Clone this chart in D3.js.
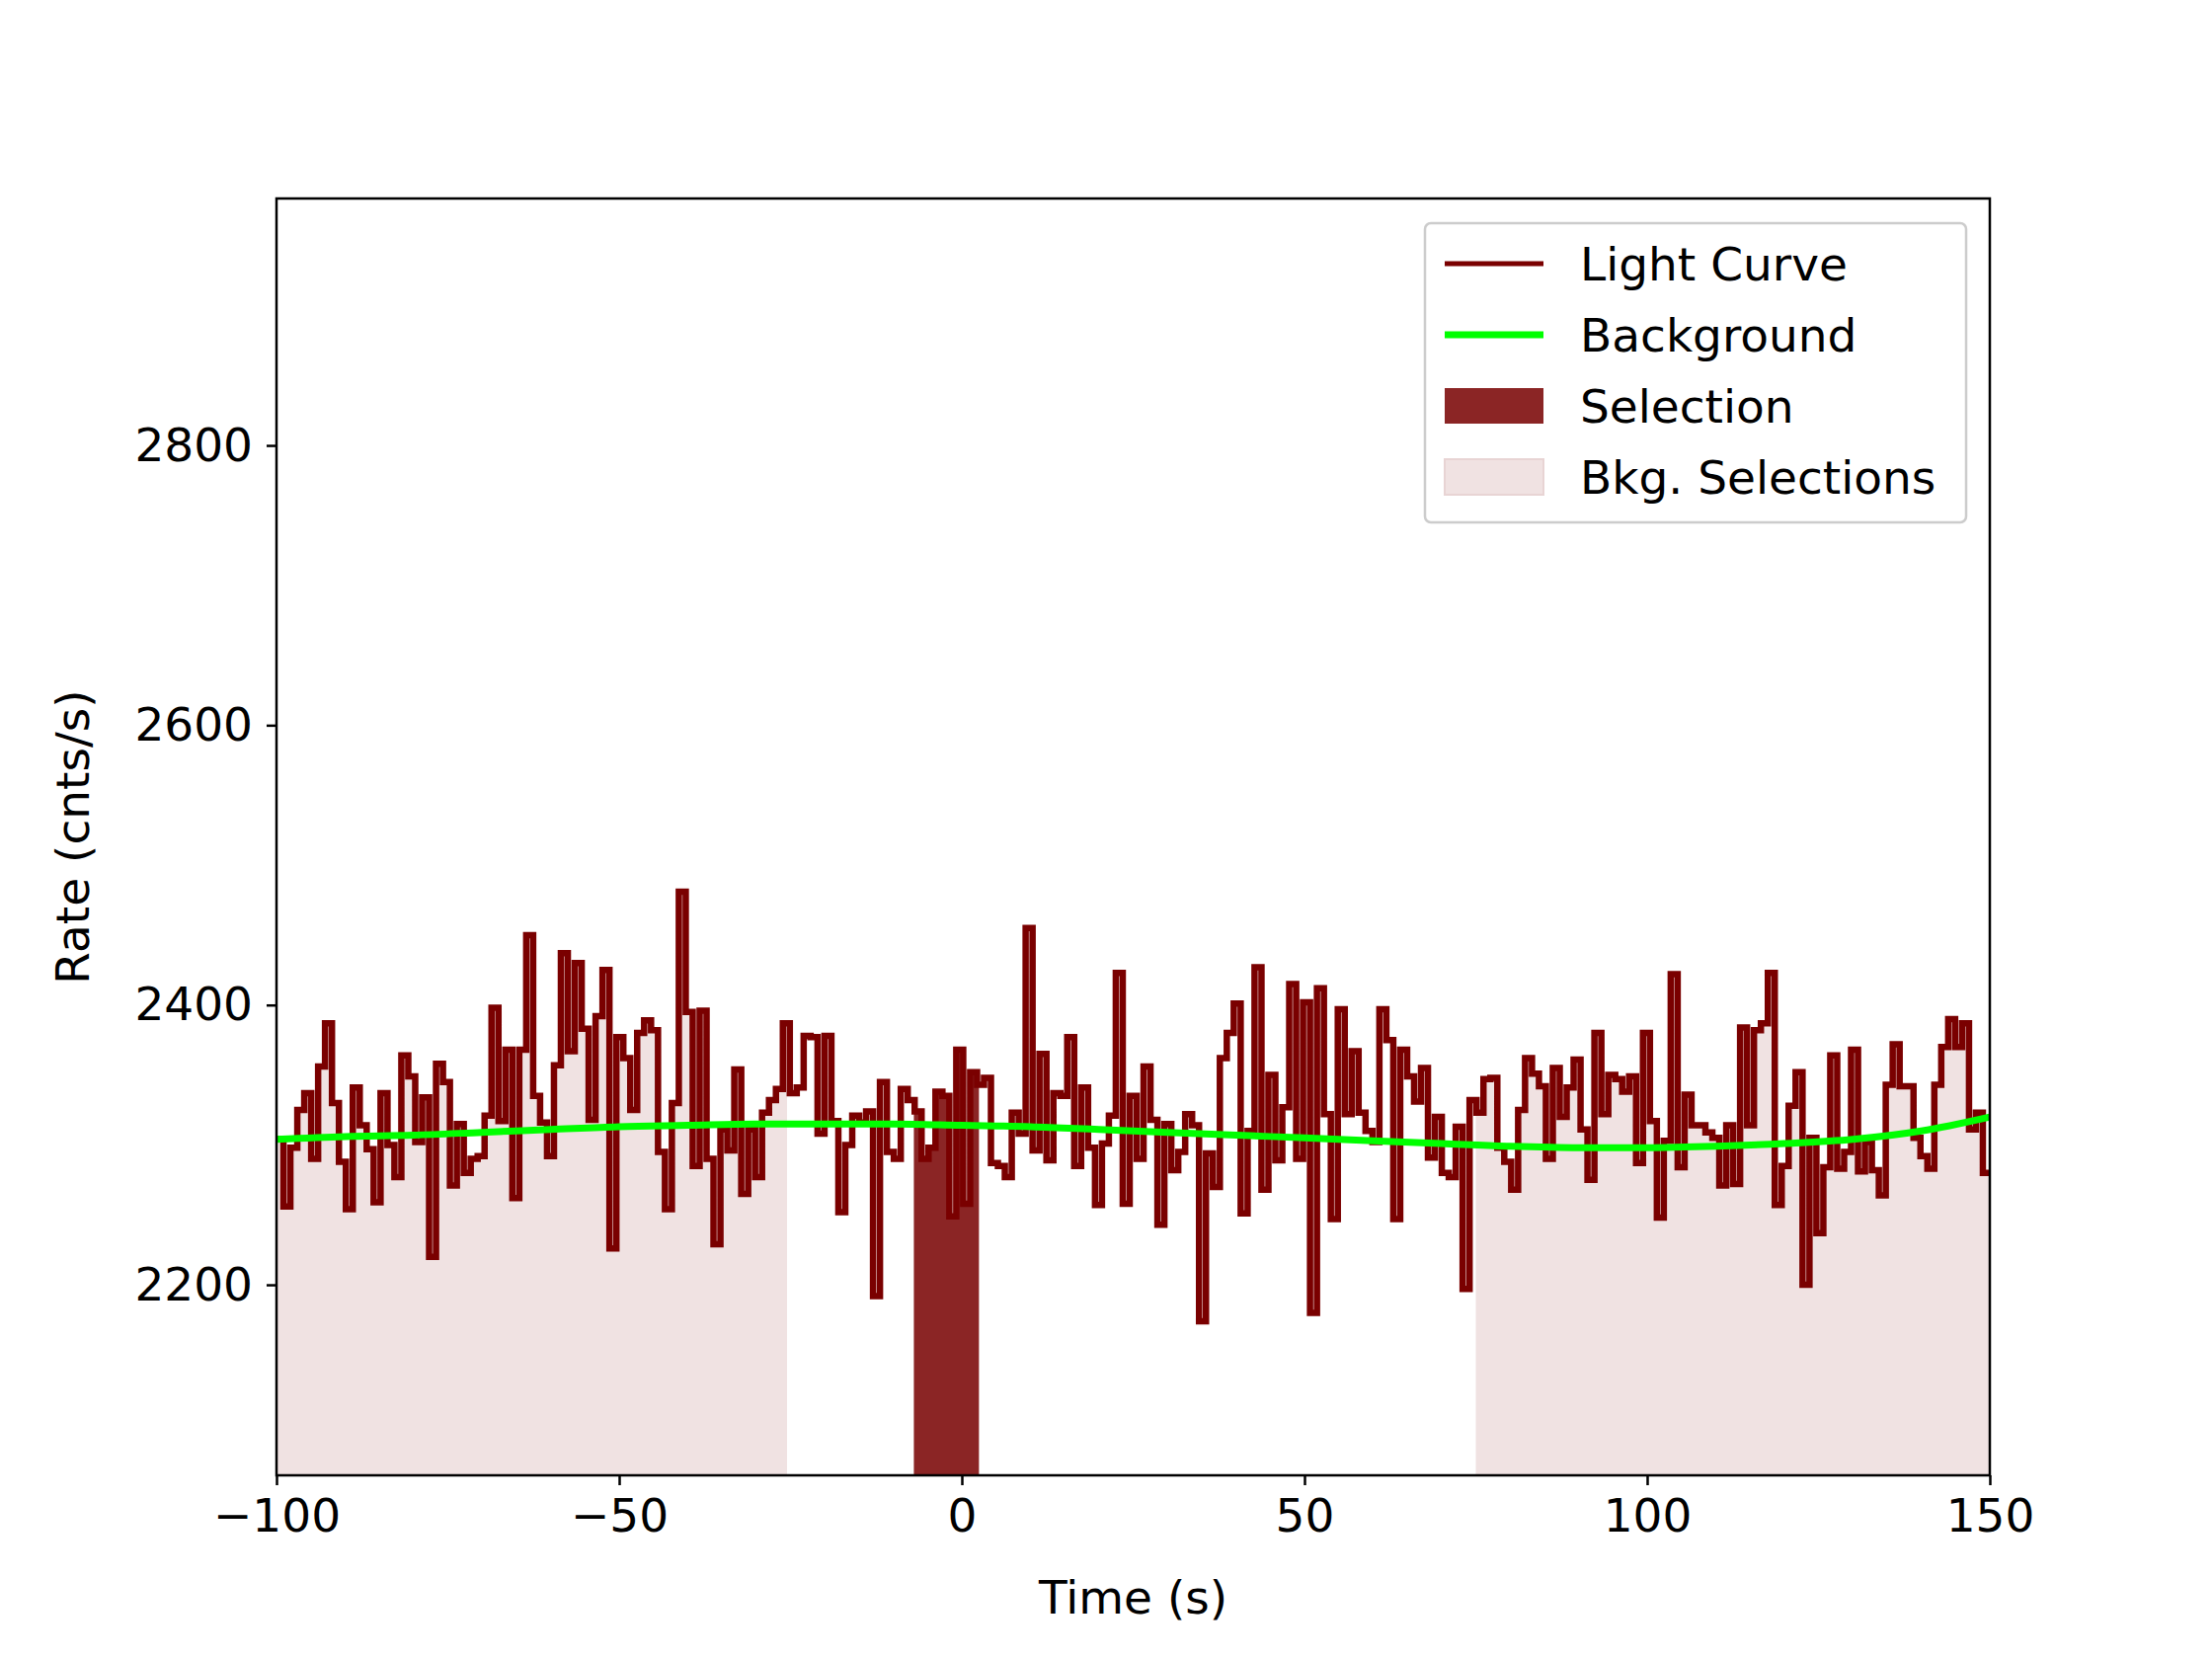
<!DOCTYPE html>
<html><head><meta charset="utf-8">
<script src="https://cdn.jsdelivr.net/npm/d3@7"></script>
<style>body{margin:0;background:#fff}text{font-family:"DejaVu Sans",sans-serif}</style>
</head><body><svg id="c" width="2240" height="1680"></svg>
<script>
const rates = [
2304,2256,2298,2325,2337,2290,2356,2387,2330,2288,2254,2341,2314,2297,2259,2337,2300,2277,2364,2349,
2302,2334,2220,2358,2345,2271,2315,2280,2290,2292,2321,2398,2317,2368,2262,2368,2450,2335,2316,2292,
2357,2437,2367,2430,2383,2318,2392,2425,2226,2377,2362,2325,2380,2389,2382,2295,2254,2330,2481,2395,
2285,2396,2290,2229,2311,
2296,2354,2265,2311,2277,2323,2332,2340,2387,2337,2341,2378,2377,2308,2378,2317,2252,2300,2321,2316,
2324,2192,2345,2295,2290,2340,2332,2324,2290,2298,2338,2335,2249,2368,2258,2352,2343,2348,2287,2285,
2277,2323,2308,2455,2296,2365,2289,2337,2335,2377,2285,2341,2298,2257,2301,2321,2423,2258,2335,2290,
2356,2318,
2243,2315,2282,2295,2322,2314,2174,2294,2270,2362,2380,2401,2251,2310,2427,2268,2350,2289,2327,2415,
2290,2402,2180,2412,2322,2247,2397,2322,2367,2323,2310,2302,2397,2375,2247,2368,2349,2331,2355,2291,
2320,2280,2277,2313,2197,2332,2323,2347,2348,2298,2288,2268,2325,2362,2351,2342,2290,2355,2320,2341,
2361,2311,2275,2380,2322,2350,2347,2338,2349,2287,2380,2317,2248,2303,2422,2284,2336,2314,2314,2309,
2305,2271,2314,2272,2384,2314,2382,2387,2423,2257,2285,2328,2352,2200,2305,2237,2284,2364,2283,2295,
2368,2281,2302,2282,2264,2343,2372,2342,2342,2305,2292,2283,2343,2370,2390,2370,2387,2311,2323,2280];
const bkgTimes = [-100,-90,-80,-70,-60,-50,-40,-30,-20,-10,0,10,20,30,40,50,60,70,80,90,100,110,120,130,140,150];
const bkgRates = [2304,2306,2307,2309,2311,2313,2314,2315,2315,2315,2314,2313,2311,2309,2307,2305,2303,2301,2299,2298,2298,2299,2301,2304,2310,2320];
const selection = [-7, 2.5];
const bkgSelections = [[-100,-25.5],[75,150]];
const xTicks = [-100,-50,0,50,100,150];
const yTicks = [2200,2400,2600,2800];
const legendLabels = ["Light Curve","Background","Selection","Bkg. Selections"];

const L=280,R=2015,T=201,B=1494,FS=47;
const svg=d3.select("#c");
const x=d3.scaleLinear().domain([-100,150]).range([L,R]);
const y=d3.scaleLinear().domain([2063.8,2976.5]).range([B,T]);
const bw=250/rates.length;
const pts=rates.map((v,i)=>[-100+i*bw,v]); pts.push([150,rates[rates.length-1]]);

const defs=svg.append("defs");
defs.append("clipPath").attr("id","plot").append("rect").attr("x",L).attr("y",T).attr("width",R-L).attr("height",B-T);
function clipFor(id,a,b){defs.append("clipPath").attr("id",id).append("rect").attr("x",x(a)).attr("y",T).attr("width",x(b)-x(a)).attr("height",B-T);}
bkgSelections.forEach((s,i)=>clipFor("bk"+i,s[0],s[1]));
clipFor("sel",selection[0],selection[1]);

const area=d3.area().x(d=>x(d[0])).y0(B).y1(d=>y(d[1])).curve(d3.curveStepAfter);
bkgSelections.forEach((s,i)=>svg.append("path").attr("d",area(pts)).attr("fill","#f0e2e2").attr("clip-path","url(#bk"+i+")"));
svg.append("path").attr("d",area(pts)).attr("fill","#8b2525").attr("clip-path","url(#sel)");

const g=svg.append("g").attr("clip-path","url(#plot)");
g.append("path").attr("d",d3.line().x(d=>x(d[0])).y(d=>y(d[1])).curve(d3.curveStepAfter)(pts))
 .attr("fill","none").attr("stroke","#7a0000").attr("stroke-width",6.5);
g.append("path").attr("d",d3.line().x((d,i)=>x(bkgTimes[i])).y(d=>y(d)).curve(d3.curveMonotoneX)(bkgRates))
 .attr("fill","none").attr("stroke","#00ff00").attr("stroke-width",7);

svg.append("rect").attr("x",L).attr("y",T).attr("width",R-L).attr("height",B-T).attr("fill","none").attr("stroke","#000").attr("stroke-width",2.5);
const xa=svg.append("g").attr("transform",`translate(0,${B})`).call(d3.axisBottom(x).tickValues(xTicks).tickFormat(d=>d<0?"\u2212"+(-d):String(d)).tickSize(10).tickPadding(14));
const ya=svg.append("g").attr("transform",`translate(${L},0)`).call(d3.axisLeft(y).tickValues(yTicks).tickFormat(d=>String(d)).tickSize(10).tickPadding(14));
[xa,ya].forEach(a=>{a.select(".domain").remove();a.selectAll("line").attr("stroke-width",2.5);a.selectAll("text").attr("font-size",FS).attr("font-family","DejaVu Sans").attr("fill","#000");});
svg.append("text").attr("x",(L+R)/2).attr("y",1634).attr("text-anchor","middle").attr("font-size",FS).text("Time (s)");
svg.append("text").attr("transform",`translate(90,${(T+B)/2}) rotate(-90)`).attr("text-anchor","middle").attr("font-size",FS).text("Rate (cnts/s)");

const lg=svg.append("g");
lg.append("rect").attr("x",1443).attr("y",226).attr("width",548).attr("height",303).attr("rx",6).attr("fill","#fff").attr("fill-opacity",0.8).attr("stroke","#ccc").attr("stroke-width",2.5);
legendLabels.forEach((t,i)=>{
  const cy=267+i*72;
  if(i===0) lg.append("line").attr("x1",1463).attr("x2",1563).attr("y1",cy).attr("y2",cy).attr("stroke","#7a0000").attr("stroke-width",5);
  if(i===1) lg.append("line").attr("x1",1463).attr("x2",1563).attr("y1",cy).attr("y2",cy).attr("stroke","#00ff00").attr("stroke-width",7);
  if(i===2) lg.append("rect").attr("x",1463).attr("y",cy-18).attr("width",100).attr("height",36).attr("fill","#8b2525");
  if(i===3) lg.append("rect").attr("x",1463).attr("y",cy-18).attr("width",100).attr("height",36).attr("fill","#f0e2e2").attr("stroke","#e8d4d4").attr("stroke-width",2);
  lg.append("text").attr("x",1600).attr("y",cy+17).attr("font-size",FS).text(t);
});
</script></body></html>
